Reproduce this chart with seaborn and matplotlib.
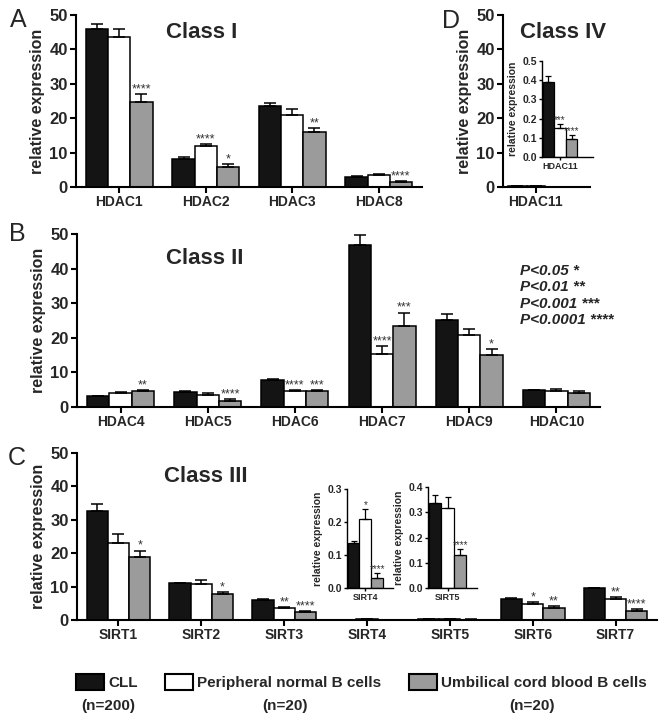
import matplotlib
matplotlib.use('Agg')
import matplotlib.pyplot as plt
from matplotlib.patches import Patch
import numpy as np
import pandas as pd
import seaborn as sns

# groups
groups = ['CLL', 'Peripheral normal B cells', 'Umbilical cord blood B cells']
group_n = ['(n=200)', '(n=20)', '(n=20)']
colors = ['#141414', '#ffffff', '#9b9b9b']

# Class I
class1_genes = ['HDAC1', 'HDAC2', 'HDAC3', 'HDAC8']
class1_cll = [45.9, 8.2, 23.5, 2.9]
class1_cll_err = [1.4, 0.5, 1.0, 0.2]
class1_pnb = [43.7, 11.8, 20.8, 3.4]
class1_pnb_err = [2.2, 0.8, 1.9, 0.4]
class1_ucb = [24.8, 5.8, 15.9, 1.5]
class1_ucb_err = [2.1, 0.8, 1.3, 0.3]
class1_pnb_sig = ['', '****', '', '']
class1_ucb_sig = ['****', '*', '**', '****']

# Class II
class2_genes = ['HDAC4', 'HDAC5', 'HDAC6', 'HDAC7', 'HDAC9', 'HDAC10']
class2_cll = [3.1, 4.3, 7.9, 46.8, 25.1, 4.8]
class2_cll_err = [0.2, 0.2, 0.2, 2.9, 1.7, 0.1]
class2_pnb = [4.05, 3.6, 4.5, 15.3, 20.9, 4.5]
class2_pnb_err = [0.3, 0.4, 0.4, 2.4, 1.7, 0.7]
class2_ucb = [4.5, 1.8, 4.5, 23.5, 15.0, 4.0]
class2_ucb_err = [0.5, 0.5, 0.3, 3.8, 1.7, 0.5]
class2_pnb_sig = ['', '', '****', '****', '', '']
class2_ucb_sig = ['**', '****', '***', '***', '*', '']

# Class III
class3_genes = ['SIRT1', 'SIRT2', 'SIRT3', 'SIRT4', 'SIRT5', 'SIRT6', 'SIRT7']
class3_cll = [32.5, 11.0, 6.0, 0.135, 0.335, 6.3, 9.5]
class3_cll_err = [2.2, 0.2, 0.2, 0.008, 0.035, 0.2, 0.2]
class3_pnb = [23.0, 10.7, 3.5, 0.21, 0.318, 4.9, 6.2]
class3_pnb_err = [2.8, 1.2, 0.5, 0.03, 0.042, 0.5, 0.6]
class3_ucb = [19.0, 7.7, 2.4, 0.03, 0.132, 3.7, 2.8]
class3_ucb_err = [1.8, 0.8, 0.4, 0.015, 0.022, 0.4, 0.4]
class3_pnb_sig = ['', '', '**', '*', '', '*', '**']
class3_ucb_sig = ['*', '*', '****', '****', '****', '**', '****']
class3_inset_genes = ['SIRT4', 'SIRT5']

# Class IV
class4_genes = ['HDAC11']
class4_cll = [0.39]
class4_cll_err = [0.03]
class4_pnb = [0.152]
class4_pnb_err = [0.02]
class4_ucb = [0.095]
class4_ucb_err = [0.022]
class4_pnb_sig = ['***']
class4_ucb_sig = ['****']

p_legend = ['P<0.05 *', 'P<0.01 **', 'P<0.001 ***', 'P<0.0001 ****']

sns.set_theme(style='ticks')
plt.rcParams['font.family'] = ['Liberation Sans', 'DejaVu Sans']
plt.rcParams['font.weight'] = 'bold'
plt.rcParams['axes.labelweight'] = 'bold'

W, H = 665, 715
fig = plt.figure(figsize=(W / 100, H / 100), dpi=100)


def px_axes(l, t, r, b):
    return fig.add_axes([l / W, 1 - b / H, (r - l) / W, (b - t) / H])


def draw_bars(ax, genes, vals, errs, sigs, capsize=4.5, lw=1.1, star_size=9, skip=()):
    df = pd.DataFrame({
        'gene': np.tile(genes, 3),
        'group': np.repeat(groups, len(genes)),
        'value': np.concatenate(vals),
    })
    sns.barplot(data=df, x='gene', y='value', hue='group', order=genes, hue_order=groups,
                palette=colors, saturation=1, edgecolor='black', linewidth=lw, width=0.77,
                errorbar=None, legend=False, ax=ax)
    flat_err = np.concatenate(errs)
    flat_sig = [s for lst in sigs for s in lst]
    for bar, e, s, g in zip(ax.patches, flat_err, flat_sig, df['gene']):
        x = bar.get_x() + bar.get_width() / 2
        top = bar.get_height()
        ax.errorbar(x, top, yerr=[[0], [e]], fmt='none', ecolor='black', elinewidth=lw,
                    capsize=capsize, capthick=lw, zorder=3)
        if s and g not in skip:
            ax.annotate(s, (x, top + e), xytext=(0, -1), textcoords='offset points',
                        ha='center', va='bottom', fontsize=star_size, color='#333333',
                        fontweight='normal')


def style_axes(ax, ymax, step, fmt, ytick_fs, xtick_fs, ylabel_fs, lw=1.5, tlen=4, pad=2):
    sns.despine(ax=ax)
    ax.set_ylim(0, ymax)
    ax.set_yticks(np.arange(0, ymax + step / 2, step))
    ax.set_yticklabels([fmt.format(v) for v in np.arange(0, ymax + step / 2, step)])
    for sp in ['left', 'bottom']:
        ax.spines[sp].set_linewidth(lw)
        ax.spines[sp].set_color('black')
    ax.tick_params(axis='both', width=lw, length=tlen, color='black', pad=pad)
    ax.tick_params(axis='y', labelsize=ytick_fs)
    ax.tick_params(axis='x', labelsize=xtick_fs)
    ax.set_xlabel('')
    ax.set_ylabel('relative expression', fontsize=ylabel_fs, labelpad=3)
    ax.set_facecolor('white')


# Panel A
axA = px_axes(76, 15, 422, 187)
draw_bars(axA, class1_genes, [class1_cll, class1_pnb, class1_ucb],
          [class1_cll_err, class1_pnb_err, class1_ucb_err],
          [[''] * 4, class1_pnb_sig, class1_ucb_sig])
axA.set_xlim(-0.5, len(class1_genes) - 0.5)
style_axes(axA, 50, 10, '{:.0f}', 12, 10, 11.5)

# Panel D
axD = px_axes(503, 15, 590, 187)
draw_bars(axD, class4_genes, [class4_cll, class4_pnb, class4_ucb],
          [class4_cll_err, class4_pnb_err, class4_ucb_err],
          [[''], [''], ['']])
axD.set_xlim(-0.45, 0.74)
style_axes(axD, 50, 10, '{:.0f}', 12, 10, 11.5)

axDi = px_axes(542, 61, 593, 157)
draw_bars(axDi, class4_genes, [class4_cll, class4_pnb, class4_ucb],
          [class4_cll_err, class4_pnb_err, class4_ucb_err],
          [[''], class4_pnb_sig, class4_ucb_sig], capsize=2.5, lw=0.9, star_size=7)
axDi.set_xlim(-0.4, 0.73)
style_axes(axDi, 0.5, 0.1, '{:.1f}', 7.5, 6.5, 7.5, lw=1.0, tlen=2.5, pad=1)
axDi.patch.set_alpha(0)

# Panel B
axB = px_axes(77, 234, 600, 407)
draw_bars(axB, class2_genes, [class2_cll, class2_pnb, class2_ucb],
          [class2_cll_err, class2_pnb_err, class2_ucb_err],
          [[''] * 6, class2_pnb_sig, class2_ucb_sig])
axB.set_xlim(-0.5, len(class2_genes) - 0.5)
style_axes(axB, 50, 10, '{:.0f}', 12, 10, 11.5)

# Panel C
axC = px_axes(77, 453, 657, 620)
draw_bars(axC, class3_genes, [class3_cll, class3_pnb, class3_ucb],
          [class3_cll_err, class3_pnb_err, class3_ucb_err],
          [[''] * 7, class3_pnb_sig, class3_ucb_sig], skip=class3_inset_genes)
axC.set_xlim(-0.5, len(class3_genes) - 0.5)
style_axes(axC, 50, 10, '{:.0f}', 12, 10, 11.5)

inset_boxes = [(347, 489, 393, 588, 0.3), (428, 487, 477, 588, 0.4)]
for gene, (l, t, r, b, ymax) in zip(class3_inset_genes, inset_boxes):
    i = class3_genes.index(gene)
    axi = px_axes(l, t, r, b)
    draw_bars(axi, [gene], [[class3_cll[i]], [class3_pnb[i]], [class3_ucb[i]]],
              [[class3_cll_err[i]], [class3_pnb_err[i]], [class3_ucb_err[i]]],
              [[''], [class3_pnb_sig[i]], [class3_ucb_sig[i]]],
              capsize=2.5, lw=0.9, star_size=7)
    axi.set_xlim(-0.4, 0.6)
    style_axes(axi, ymax, 0.1, '{:.1f}', 7.5, 6.5, 7.5, lw=1.0, tlen=2.5, pad=1)
    axi.patch.set_alpha(0)


def ftext(x, y, s, **kw):
    fig.text(x / W, 1 - y / H, s, **kw)


# titles and panel letters
ftext(202, 32, 'Class I', fontsize=16, ha='center', va='center')
ftext(205, 259, 'Class II', fontsize=16, ha='center', va='center')
ftext(206, 477, 'Class III', fontsize=16, ha='center', va='center')
ftext(563, 32, 'Class IV', fontsize=16, ha='center', va='center')
for letter, (x, y) in zip('ABCD', [(18, 20), (17, 234), (17, 458), (451, 21)]):
    ftext(x, y, letter, fontsize=18, fontweight='normal', ha='center', va='center')

# significance key
for k, s in enumerate(p_legend):
    ftext(520, 271 + k * 16.3, s, fontsize=11, fontstyle='italic', ha='left', va='center')

# legend
handles = [Patch(facecolor=c, edgecolor='black', linewidth=1.5, label=g)
           for c, g in zip(colors, groups)]
fig.legend(handles=handles, loc='center left', bbox_to_anchor=(76 / W, 1 - 682 / H), ncol=3,
           frameon=False, fontsize=11, handlelength=1.85, handleheight=1.3,
           handletextpad=0.25, columnspacing=1.8, borderpad=0, borderaxespad=0)
for s, x in zip(group_n, [108, 285, 532]):
    ftext(x, 706, s, fontsize=11, ha='center', va='center')

fig.savefig('out.png', dpi=100, facecolor='white')
